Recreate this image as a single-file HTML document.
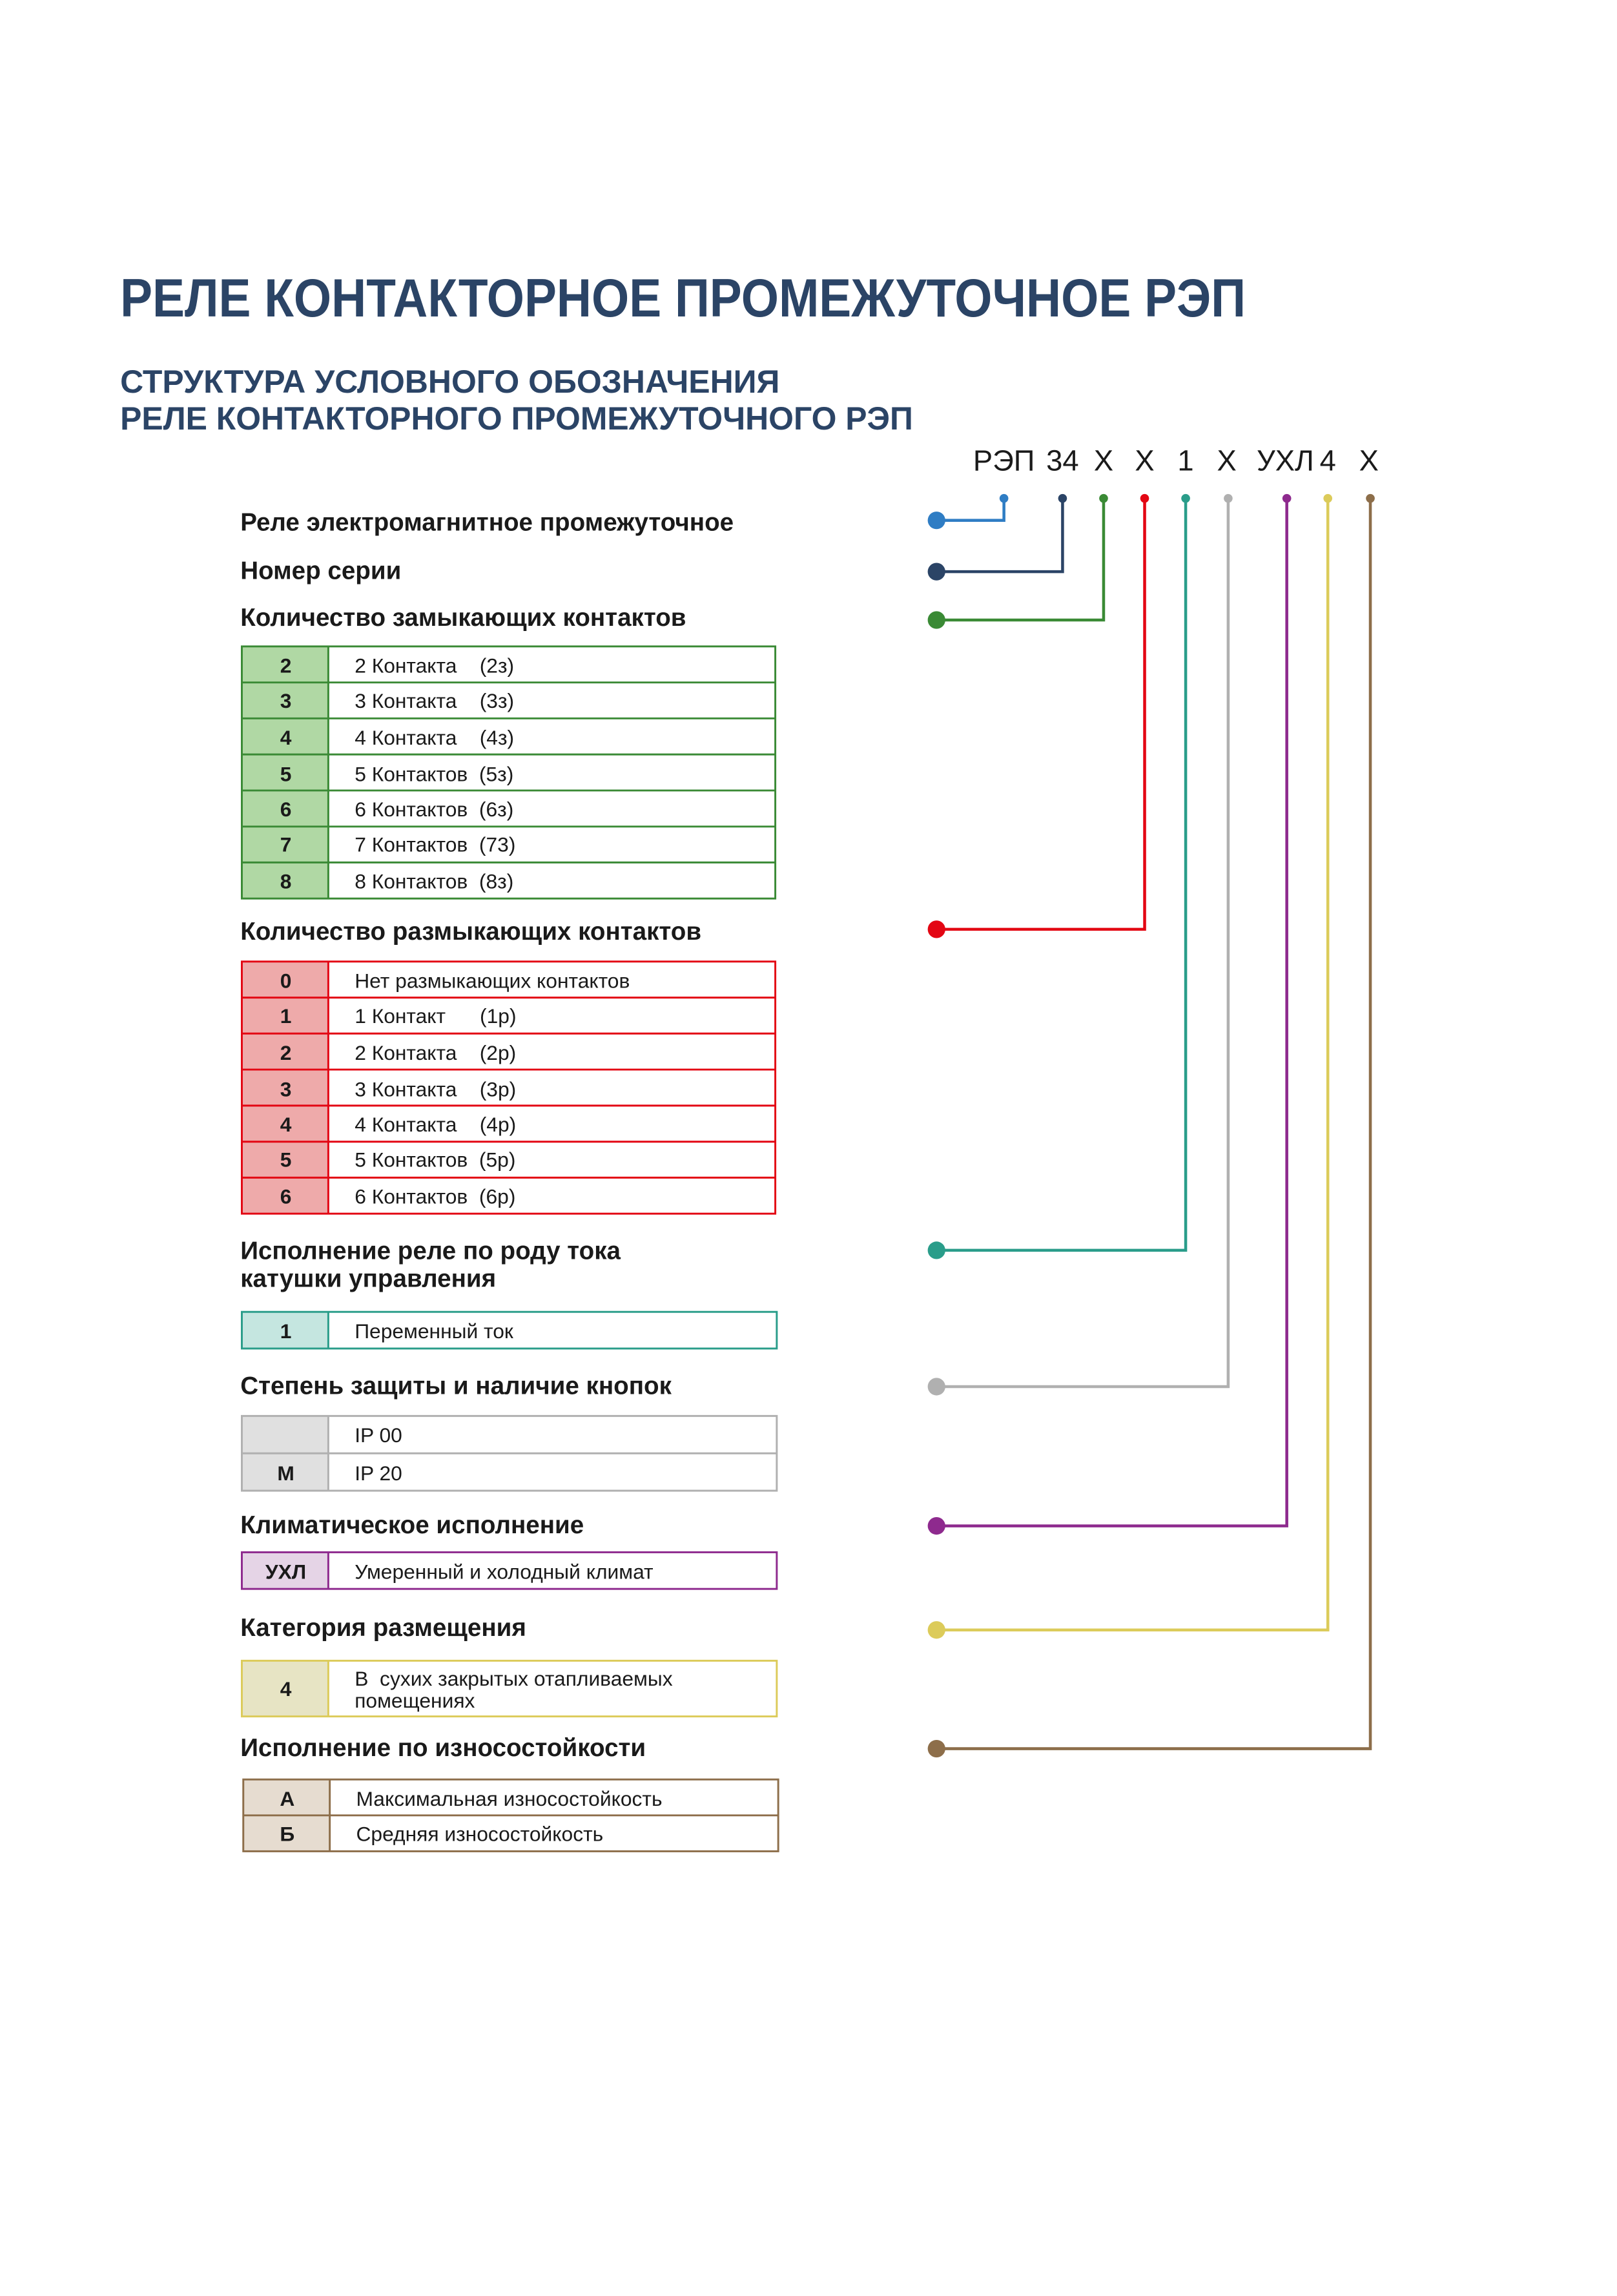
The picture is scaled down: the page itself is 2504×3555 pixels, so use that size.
<!DOCTYPE html>
<html><head><meta charset="utf-8"><style>
html,body{margin:0;padding:0;background:#fff;}
svg{display:block;}
text{font-family:"Liberation Sans",sans-serif;}
.lb{font-weight:bold;font-size:17px;fill:#1a1a1a;}
.c{font-weight:bold;font-size:14px;fill:#1a1a1a;text-anchor:middle;}
.d{font-size:14px;fill:#1a1a1a;}
</style></head><body>
<svg width="2504" height="3555" viewBox="0 0 1103.3 1566.4" preserveAspectRatio="none" xmlns="http://www.w3.org/2000/svg">
<rect width="1104" height="1567" fill="#fff"/>
<text x="82" y="216" font-size="37" font-weight="bold" fill="#2b4466" textLength="768" lengthAdjust="spacingAndGlyphs">РЕЛЕ КОНТАКТОРНОЕ ПРОМЕЖУТОЧНОЕ РЭП</text>
<text x="82" y="268" font-size="22" font-weight="bold" fill="#2b4466" textLength="450" lengthAdjust="spacingAndGlyphs">СТРУКТУРА УСЛОВНОГО ОБОЗНАЧЕНИЯ</text>
<text x="82" y="293" font-size="22" font-weight="bold" fill="#2b4466" textLength="541" lengthAdjust="spacingAndGlyphs">РЕЛЕ КОНТАКТОРНОГО ПРОМЕЖУТОЧНОГО РЭП</text>
<g font-size="20" fill="#1a1a1a" text-anchor="middle">
<text x="685" y="321">РЭП</text><text x="725" y="321">34</text><text x="753" y="321">Х</text><text x="781" y="321">Х</text><text x="809" y="321">1</text><text x="837" y="321">Х</text><text x="877" y="321">УХЛ</text><text x="906" y="321">4</text><text x="934" y="321">Х</text>
</g>
<g fill="none" stroke-width="2">
<path d="M639 355H685V340" stroke="#2f7dc4"/>
<path d="M639 390H725V340" stroke="#2b4466"/>
<path d="M639 423H753V340" stroke="#3a8a35"/>
<path d="M639 634H781V340" stroke="#e30613"/>
<path d="M639 853H809V340" stroke="#2a9d8a"/>
<path d="M639 946H838V340" stroke="#b0b0b0"/>
<path d="M639 1041H878V340" stroke="#8e2a8e"/>
<path d="M639 1112H906V340" stroke="#dccb5a"/>
<path d="M639 1193H935V340" stroke="#8d6e4a"/>
</g>
<g>
<circle cx="639" cy="355" r="6" fill="#2f7dc4"/><circle cx="685" cy="340" r="3" fill="#2f7dc4"/>
<circle cx="639" cy="390" r="6" fill="#2b4466"/><circle cx="725" cy="340" r="3" fill="#2b4466"/>
<circle cx="639" cy="423" r="6" fill="#3a8a35"/><circle cx="753" cy="340" r="3" fill="#3a8a35"/>
<circle cx="639" cy="634" r="6" fill="#e30613"/><circle cx="781" cy="340" r="3" fill="#e30613"/>
<circle cx="639" cy="853" r="6" fill="#2a9d8a"/><circle cx="809" cy="340" r="3" fill="#2a9d8a"/>
<circle cx="639" cy="946" r="6" fill="#b0b0b0"/><circle cx="838" cy="340" r="3" fill="#b0b0b0"/>
<circle cx="639" cy="1041" r="6" fill="#8e2a8e"/><circle cx="878" cy="340" r="3" fill="#8e2a8e"/>
<circle cx="639" cy="1112" r="6" fill="#dccb5a"/><circle cx="906" cy="340" r="3" fill="#dccb5a"/>
<circle cx="639" cy="1193" r="6" fill="#8d6e4a"/><circle cx="935" cy="340" r="3" fill="#8d6e4a"/>
</g>
<text class="lb" x="164" y="362">Реле электромагнитное промежуточное</text>
<text class="lb" x="164" y="395">Номер серии</text>
<text class="lb" x="164" y="427">Количество замыкающих контактов</text>
<text class="lb" x="164" y="641">Количество размыкающих контактов</text>
<text class="lb" x="164" y="859">Исполнение реле по роду тока</text>
<text class="lb" x="164" y="878">катушки управления</text>
<text class="lb" x="164" y="951">Степень защиты и наличие кнопок</text>
<text class="lb" x="164" y="1046">Климатическое исполнение</text>
<text class="lb" x="164" y="1116">Категория размещения</text>
<text class="lb" x="164" y="1198">Исполнение по износостойкости</text>

<g>
<rect x="165" y="441" width="59" height="172" fill="#b0d8a4"/>
<g stroke="#3a8a35" stroke-width="1.3" fill="none">
<rect x="165" y="441" width="364" height="172"/>
<line x1="224" y1="441" x2="224" y2="613"/>
<line x1="165" y1="465.6" x2="529" y2="465.6"/><line x1="165" y1="490.1" x2="529" y2="490.1"/><line x1="165" y1="514.7" x2="529" y2="514.7"/><line x1="165" y1="539.3" x2="529" y2="539.3"/><line x1="165" y1="563.9" x2="529" y2="563.9"/><line x1="165" y1="588.4" x2="529" y2="588.4"/>
</g>
<text class="c" x="195" y="459">2</text><text class="d" x="242" y="459">2 Контакта&#160;&#160;&#160; (2з)</text>
<text class="c" x="195" y="483">3</text><text class="d" x="242" y="483">3 Контакта&#160;&#160;&#160; (3з)</text>
<text class="c" x="195" y="508">4</text><text class="d" x="242" y="508">4 Контакта&#160;&#160;&#160; (4з)</text>
<text class="c" x="195" y="533">5</text><text class="d" x="242" y="533">5 Контактов&#160; (5з)</text>
<text class="c" x="195" y="557">6</text><text class="d" x="242" y="557">6 Контактов&#160; (6з)</text>
<text class="c" x="195" y="581">7</text><text class="d" x="242" y="581">7 Контактов&#160; (73)</text>
<text class="c" x="195" y="606">8</text><text class="d" x="242" y="606">8 Контактов&#160; (8з)</text>
</g>

<g>
<rect x="165" y="656" width="59" height="172" fill="#eeaaaa"/>
<g stroke="#e30613" stroke-width="1.3" fill="none">
<rect x="165" y="656" width="364" height="172"/>
<line x1="224" y1="656" x2="224" y2="828"/>
<line x1="165" y1="680.6" x2="529" y2="680.6"/><line x1="165" y1="705.1" x2="529" y2="705.1"/><line x1="165" y1="729.7" x2="529" y2="729.7"/><line x1="165" y1="754.3" x2="529" y2="754.3"/><line x1="165" y1="778.9" x2="529" y2="778.9"/><line x1="165" y1="803.4" x2="529" y2="803.4"/>
</g>
<text class="c" x="195" y="674">0</text><text class="d" x="242" y="674">Нет размыкающих контактов</text>
<text class="c" x="195" y="698">1</text><text class="d" x="242" y="698">1 Контакт&#160;&#160;&#160;&#160;&#160; (1р)</text>
<text class="c" x="195" y="723">2</text><text class="d" x="242" y="723">2 Контакта&#160;&#160;&#160; (2р)</text>
<text class="c" x="195" y="748">3</text><text class="d" x="242" y="748">3 Контакта&#160;&#160;&#160; (3р)</text>
<text class="c" x="195" y="772">4</text><text class="d" x="242" y="772">4 Контакта&#160;&#160;&#160; (4р)</text>
<text class="c" x="195" y="796">5</text><text class="d" x="242" y="796">5 Контактов&#160; (5р)</text>
<text class="c" x="195" y="821">6</text><text class="d" x="242" y="821">6 Контактов&#160; (6р)</text>
</g>

<rect x="165" y="895" width="59" height="25" fill="#c5e6e0"/>
<g stroke="#2a9d8a" stroke-width="1.3" fill="none"><rect x="165" y="895" width="365" height="25"/><line x1="224" y1="895" x2="224" y2="920"/></g>
<text class="c" x="195" y="913">1</text><text class="d" x="242" y="913">Переменный ток</text>

<rect x="165" y="966" width="59" height="51" fill="#e0e0e0"/>
<g stroke="#b0b0b0" stroke-width="1.3" fill="none"><rect x="165" y="966" width="365" height="51"/><line x1="224" y1="966" x2="224" y2="1017"/><line x1="165" y1="991.5" x2="530" y2="991.5"/></g>
<text class="d" x="242" y="984">IP 00</text>
<text class="c" x="195" y="1010">М</text><text class="d" x="242" y="1010">IP 20</text>

<rect x="165" y="1059" width="59" height="25" fill="#e5d4e6"/>
<g stroke="#8e2a8e" stroke-width="1.3" fill="none"><rect x="165" y="1059" width="365" height="25"/><line x1="224" y1="1059" x2="224" y2="1084"/></g>
<text class="c" x="195" y="1077">УХЛ</text><text class="d" x="242" y="1077">Умеренный и холодный климат</text>

<rect x="165" y="1133" width="59" height="38" fill="#e7e4c4"/>
<g stroke="#dccb5a" stroke-width="1.3" fill="none"><rect x="165" y="1133" width="365" height="38"/><line x1="224" y1="1133" x2="224" y2="1171"/></g>
<text class="c" x="195" y="1157">4</text><text class="d" x="242" y="1150">В&#160; сухих закрытых отапливаемых</text><text class="d" x="242" y="1165">помещениях</text>

<rect x="166" y="1214" width="59" height="49" fill="#e6dcd0"/>
<g stroke="#8d6e4a" stroke-width="1.3" fill="none"><rect x="166" y="1214" width="365" height="49"/><line x1="225" y1="1214" x2="225" y2="1263"/><line x1="166" y1="1238.5" x2="531" y2="1238.5"/></g>
<text class="c" x="196" y="1232">А</text><text class="d" x="243" y="1232">Максимальная износостойкость</text>
<text class="c" x="196" y="1256">Б</text><text class="d" x="243" y="1256">Средняя износостойкость</text>
</svg>
</body></html>
